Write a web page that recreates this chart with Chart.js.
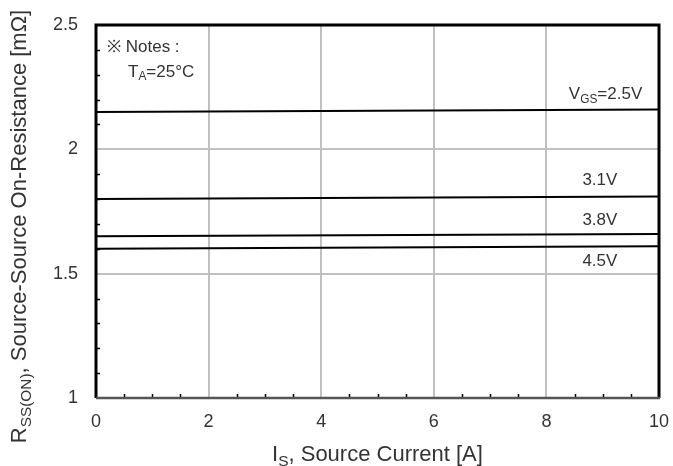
<!DOCTYPE html>
<html lang="en">
<head>
    <meta charset="UTF-8">
    <title>Source-Source On-Resistance vs Source Current</title>
    <script src="https://cdn.jsdelivr.net/npm/chart.js"></script>
    <style>
        body { margin: 0; padding: 0; background: #ffffff; }
        .chart-box { width: 673px; height: 466px; }
    </style>
</head>
<body>
    <div class="chart-box">
        <canvas id="rssChart" width="673" height="466"></canvas>
    </div>

    <script>
        // Data
        const sourceCurrent = [0, 10];
        const vgs25 = [2.15, 2.16];
        const vgs31 = [1.80, 1.81];
        const vgs38 = [1.65, 1.66];
        const vgs45 = [1.60, 1.61];

        const xTicks = [0, 2, 4, 6, 8, 10];
        const yTicks = [1, 1.5, 2, 2.5];
        const xMinorTicks = [0.5, 1, 1.5, 2.5, 3, 3.5, 4.5, 5, 5.5, 6.5, 7, 7.5, 8.5, 9, 9.5];
        const yMinorTicks = [1.1, 1.2, 1.3, 1.4, 1.6, 1.7, 1.8, 1.9, 2.1, 2.2, 2.3, 2.4];

        // curve labels: [parts, x value, y value]
        const curveLabels = [
            [[['V', false], ['GS', true], ['=2.5V', false]], 9.05, 2.22],
            [[['3.1V', false]], 8.95, 1.875],
            [[['3.8V', false]], 8.95, 1.715],
            [[['4.5V', false]], 8.95, 1.55]
        ];

        const FONT = "'Liberation Sans', Arial, sans-serif";
        const TEXT = '#333333';

        function toPoints(ys) {
            return ys.map((v, i) => ({ x: sourceCurrent[i], y: v }));
        }

        // text made of normal / subscript pieces
        function partsWidth(ctx, parts, size) {
            let w = 0;
            for (const [t, sub] of parts) {
                ctx.font = (sub ? size * 0.7 : size) + 'px ' + FONT;
                w += ctx.measureText(t).width;
            }
            return w;
        }
        function drawParts(ctx, parts, x, y, size) {
            ctx.textBaseline = 'middle';
            ctx.textAlign = 'left';
            for (const [t, sub] of parts) {
                ctx.font = (sub ? size * 0.7 : size) + 'px ' + FONT;
                ctx.fillText(t, x, sub ? y + size * 0.3 : y);
                x += ctx.measureText(t).width;
            }
        }

        const decorations = {
            id: 'decorations',
            afterDraw(chart) {
                const { ctx, chartArea: a, scales: { x, y } } = chart;
                ctx.save();

                // minor ticks, pointing inward
                ctx.strokeStyle = '#000';
                ctx.lineWidth = 1.5;
                ctx.beginPath();
                for (const v of yMinorTicks) {
                    const py = Math.round(y.getPixelForValue(v)) + 0.5;
                    ctx.moveTo(a.left, py);
                    ctx.lineTo(a.left + 4, py);
                }
                for (const v of xMinorTicks) {
                    const px = Math.round(x.getPixelForValue(v)) + 0.5;
                    ctx.moveTo(px, a.bottom);
                    ctx.lineTo(px, a.bottom - 4);
                }
                ctx.stroke();

                // frame
                ctx.strokeStyle = '#000';
                ctx.lineWidth = 3;
                ctx.beginPath();
                ctx.moveTo(a.left, a.bottom);
                ctx.lineTo(a.left, a.top);
                ctx.lineTo(a.right, a.top);
                ctx.lineTo(a.right, a.bottom);
                ctx.stroke();
                ctx.strokeStyle = '#555';
                ctx.lineWidth = 2.5;
                ctx.beginPath();
                ctx.moveTo(a.left, a.bottom);
                ctx.lineTo(a.right + 1, a.bottom);
                ctx.stroke();

                ctx.fillStyle = TEXT;

                // curve labels
                for (const [parts, vx, vy] of curveLabels) {
                    const w = partsWidth(ctx, parts, 17);
                    drawParts(ctx, parts, x.getPixelForValue(vx) - w / 2, y.getPixelForValue(vy), 17);
                }

                // notes
                drawParts(ctx, [['\u203B Notes :', false]], a.left + 11, a.top + 22, 17);
                drawParts(ctx, [['T', false], ['A', true], ['=25\u00B0C', false]], a.left + 32, a.top + 47, 17);

                // x axis title
                const xTitle = [['I', false], ['S', true], [', Source Current [A]', false]];
                const xw = partsWidth(ctx, xTitle, 22);
                drawParts(ctx, xTitle, (a.left + a.right) / 2 - xw / 2, 455, 22);

                // y axis title
                const yTitle = [['R', false], ['SS(ON)', true], [', Source-Source On-Resistance [m\u03A9]', false]];
                const yw = partsWidth(ctx, yTitle, 22);
                ctx.translate(20, (a.top + a.bottom) / 2 + 15);
                ctx.rotate(-Math.PI / 2);
                drawParts(ctx, yTitle, -yw / 2, 0, 22);

                ctx.restore();
            }
        };

        const lineStyle = {
            borderColor: '#000000',
            borderWidth: 2,
            pointRadius: 0,
            fill: false,
            tension: 0
        };

        new Chart(document.getElementById('rssChart').getContext('2d'), {
            type: 'line',
            data: {
                datasets: [
                    { label: 'VGS=2.5V', data: toPoints(vgs25), ...lineStyle },
                    { label: '3.1V', data: toPoints(vgs31), ...lineStyle },
                    { label: '3.8V', data: toPoints(vgs38), ...lineStyle },
                    { label: '4.5V', data: toPoints(vgs45), ...lineStyle }
                ]
            },
            options: {
                responsive: false,
                animation: false,
                layout: { padding: { top: 25, right: 14, left: 0, bottom: 0 } },
                plugins: {
                    legend: { display: false },
                    tooltip: { enabled: false }
                },
                scales: {
                    x: {
                        type: 'linear',
                        min: 0,
                        max: 10,
                        afterBuildTicks: s => { s.ticks = xTicks.map(v => ({ value: v })); },
                        afterFit: s => { s.height = 68; s.paddingLeft = 0; s.paddingRight = 0; },
                        border: { display: false },
                        grid: { color: '#c0c0c0', lineWidth: 2, drawTicks: false },
                        ticks: {
                            padding: 13,
                            color: TEXT,
                            font: { family: FONT, size: 18 },
                            maxRotation: 0
                        }
                    },
                    y: {
                        type: 'linear',
                        min: 1,
                        max: 2.5,
                        afterBuildTicks: s => { s.ticks = yTicks.map(v => ({ value: v })); },
                        afterFit: s => { s.width = 96; s.paddingTop = 0; s.paddingBottom = 0; },
                        border: { display: false },
                        grid: { color: '#c0c0c0', lineWidth: 2, drawTicks: false },
                        ticks: {
                            padding: 18,
                            color: TEXT,
                            font: { family: FONT, size: 18 },
                            callback: v => String(v)
                        }
                    }
                }
            },
            plugins: [decorations]
        });
    </script>
</body>
</html>
